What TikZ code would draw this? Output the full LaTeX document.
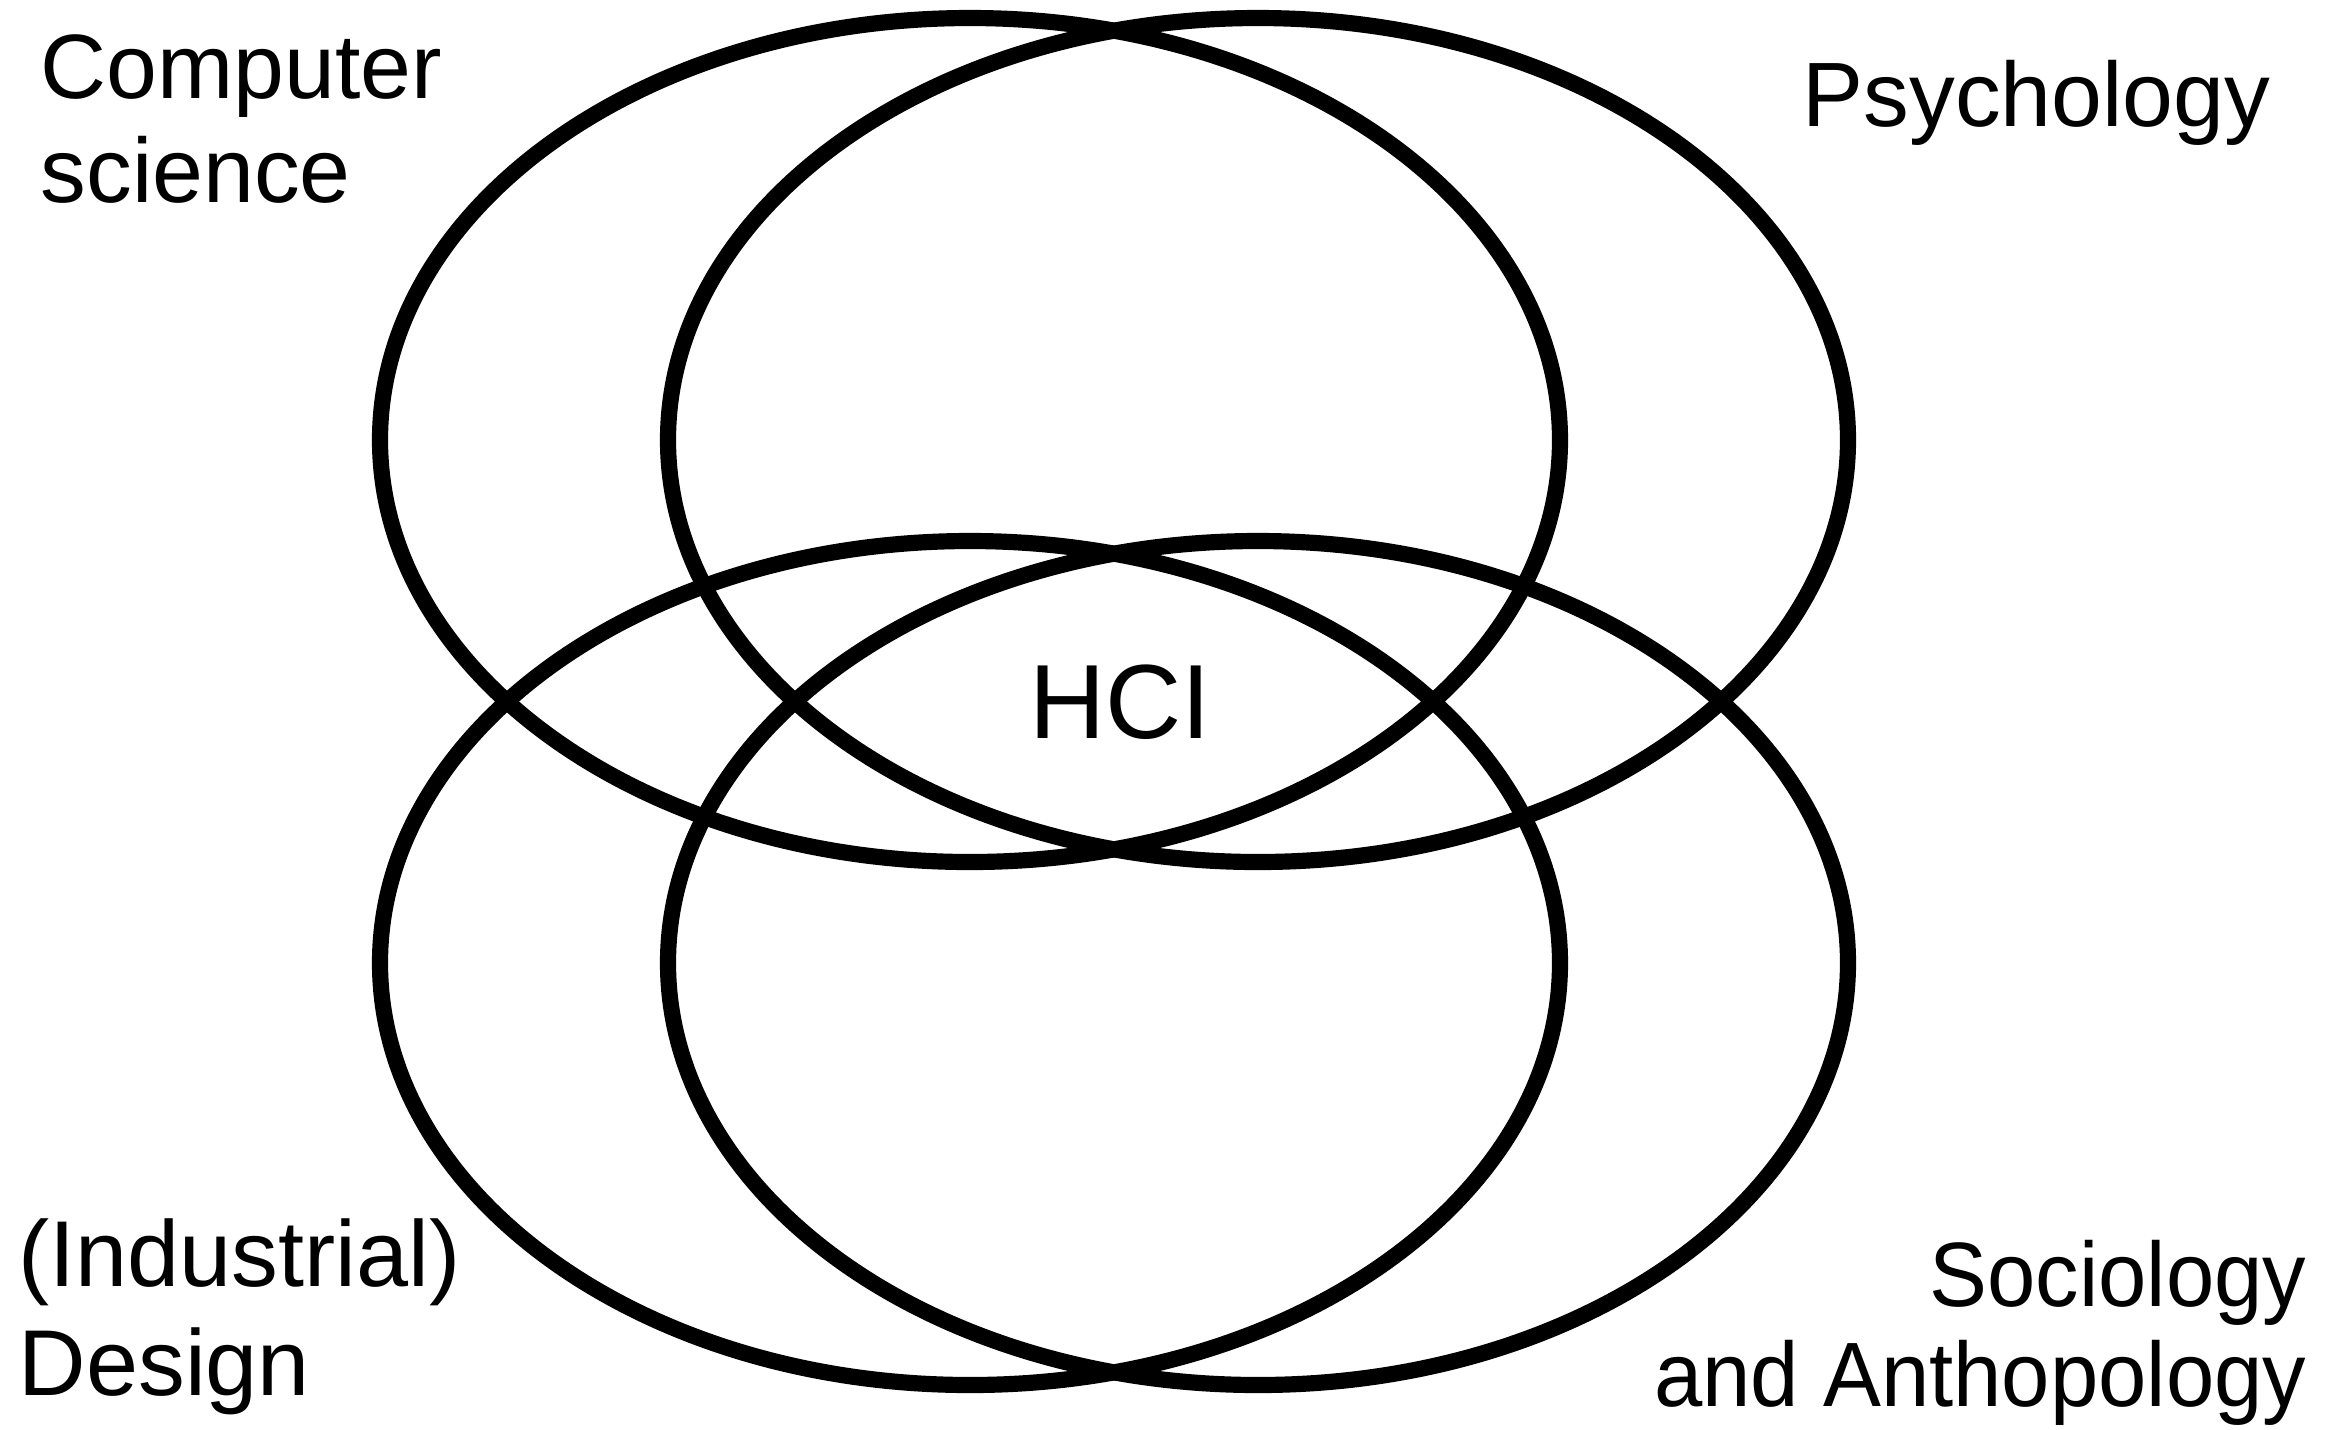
\documentclass[tikz,border=0pt]{standalone}
\usepackage{fontspec}
\setmainfont{Liberation Sans}
\newfontfamily\narrowsans[FakeStretch=0.95]{Liberation Sans}
\begin{document}
\begin{tikzpicture}[x=0.01cm, y=-0.01cm,
    ring/.style={line width=4.6pt, black},
    every node/.style={inner sep=0pt, font=\fontsize{26}{31}\selectfont}]
  \useasboundingbox (0,0) rectangle (2341,1429);
  % the four fields
  \draw[ring] (970,440) ellipse [x radius=590, y radius=422];
  \draw[ring] (1258,440) ellipse [x radius=590, y radius=422];
  \draw[ring] (970,963) ellipse [x radius=590, y radius=422];
  \draw[ring] (1258,963) ellipse [x radius=590, y radius=422];
  % labels
  \node[anchor=north west, align=left, font=\fontsize{26}{29.5}\selectfont] (cs) at (40,34) {Computer\\science};
  \node[anchor=north west] (psy) at (1802,60) {Psychology};
  \node[font=\fontsize{30}{36}\selectfont] (hci) at (1120,702) {HCI};
  \node[anchor=south west, align=left, font=\fontsize{26.6}{31}\selectfont] (des) at (18,1416) {(Industrial)\\Design};
  \node[anchor=south east, align=right, font=\narrowsans\fontsize{26}{28.5}\selectfont] (soc) at (2307,1426) {Sociology\\and Anthopology};
\end{tikzpicture}
\end{document}
